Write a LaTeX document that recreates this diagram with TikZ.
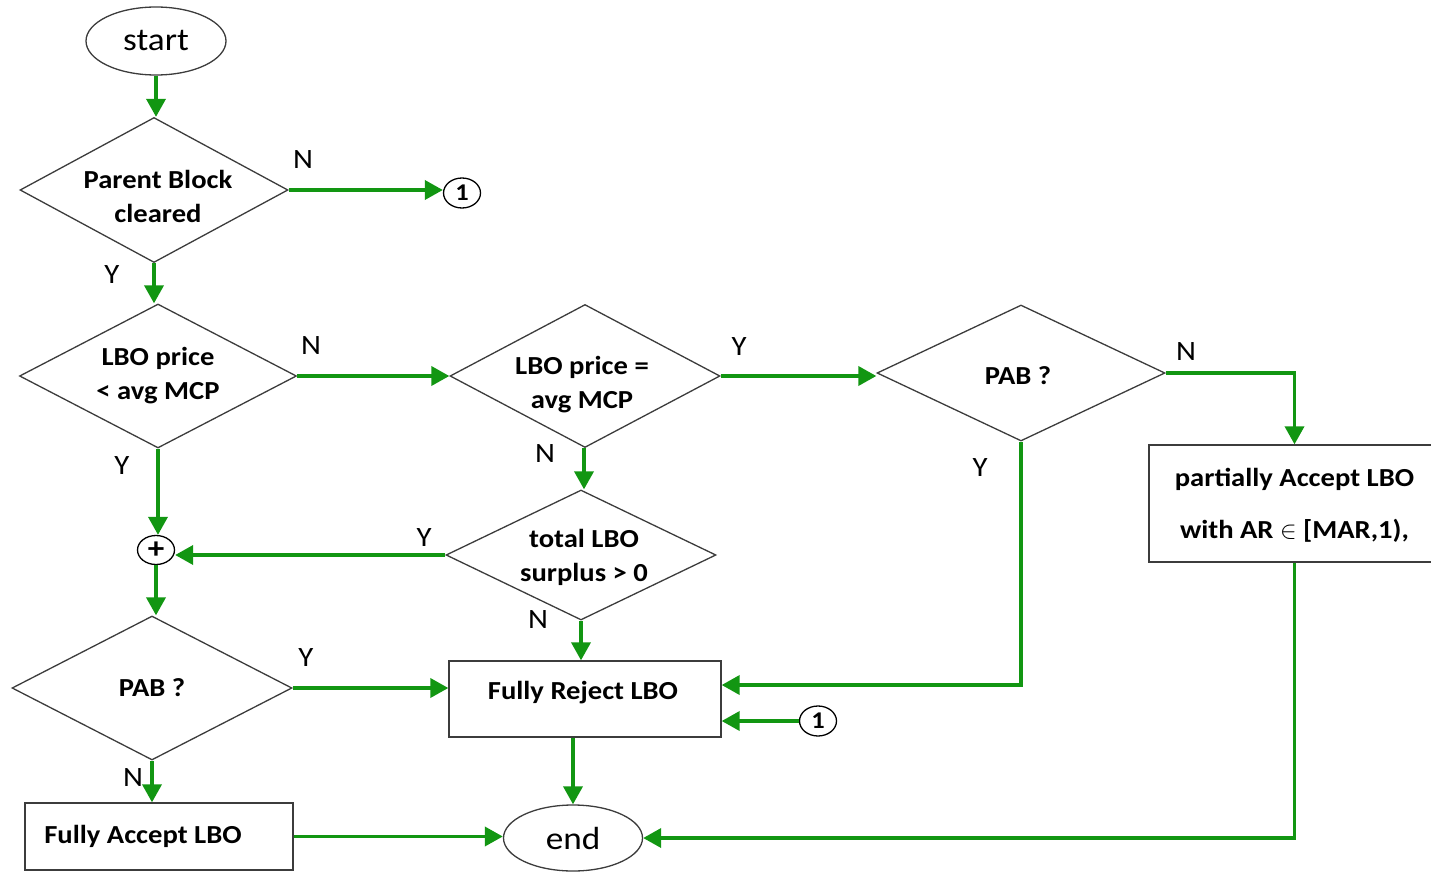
\documentclass[tikz,border=0pt]{standalone}
\usepackage{fontspec}
\setmainfont{Carlito}[FakeStretch=1.1]
\usetikzlibrary{shapes.geometric,arrows.meta}
\definecolor{flowgreen}{RGB}{18,150,18}
\definecolor{edgegray}{RGB}{60,60,60}
\tikzset{
  shapeline/.style={draw=edgegray,line width=1.3pt,fill=white},
  dia/.style={shapeline,diamond,inner sep=0pt},
  oval/.style={shapeline,ellipse,inner sep=0pt},
  boxnode/.style={shapeline,rectangle,inner sep=0pt},
  conn/.style={circle,draw=black,line width=1.3pt,ellipse,inner sep=0pt,minimum width=37pt,minimum height=30pt,font=\fontsize{24}{24}\selectfont\bfseries},
  flow/.style={draw=flowgreen,line width=3.6pt,-{Triangle[length=18pt,width=19pt]}},
  lbl/.style={font=\fontsize{26}{34}\selectfont\bfseries,align=center},
  yn/.style={font=\fontsize{28}{28}\selectfont,inner sep=0pt},
}
\begin{document}
\begin{tikzpicture}[x=1pt,y=-1pt]
\useasboundingbox (0,0) rectangle (1431,872);
% shapes
\node[oval,minimum width=140pt,minimum height=68pt,font=\fontsize{32}{32}\selectfont] (start) at (156,41) {start};
\node[dia,minimum width=268pt,minimum height=145pt,label={[lbl,yshift=-6pt,xshift=4pt]center:Parent Block\\cleared}] (pb) at (154,190) {};
\node[conn] (c1a) at (462,193) {1};
\node[dia,minimum width=277pt,minimum height=144pt,label={[lbl]center:LBO price\\< avg MCP}] (lp) at (158,376) {};
\node[dia,minimum width=270pt,minimum height=143pt,label={[lbl,yshift=-9pt,xshift=-3pt]center:LBO price =\\avg MCP}] (le) at (585,376) {};
\node[dia,minimum width=288pt,minimum height=136pt,label={[lbl,yshift=-3pt,xshift=-3pt]center:PAB ?}] (pab1) at (1021,373) {};
\node[boxnode,minimum width=291pt,minimum height=117pt,label={[lbl,font=\fontsize{26}{52}\selectfont\bfseries,yshift=-2pt]center:partially Accept LBO\\with AR $\in$ [MAR,1),}] (pa) at (1294.5,503.5) {};
\node[dia,minimum width=270pt,minimum height=130pt,label={[lbl,yshift=-2pt,xshift=3pt]center:total LBO\\surplus > 0}] (tl) at (581,555) {};
\node[conn,minimum width=37pt,minimum height=29pt,font=\fontsize{30}{30}\selectfont\bfseries] (plus) at (156,550) {+};
\node[dia,minimum width=280pt,minimum height=144pt,label={[lbl]center:PAB ?}] (pab2) at (152,688) {};
\node[boxnode,minimum width=272pt,minimum height=76pt,label={[lbl,yshift=6pt,xshift=-2pt]center:Fully Reject LBO}] (fr) at (585,699) {};
\node[conn] (c1b) at (818,721) {1};
\node[oval,minimum width=139pt,minimum height=66pt,font=\fontsize{32}{32}\selectfont] (end) at (573,838) {end};
\node[boxnode,minimum width=268pt,minimum height=67pt,label={[lbl,xshift=-16pt]center:Fully Accept LBO}] (fa) at (159,836.5) {};
% connectors
\draw[flow] (start.south) -- (start.south |- pb.north);
\draw[flow] (pb.east) -- (pb.east -| c1a.west);
\draw[flow] (pb.south) -- (pb.south |- lp.north);
\draw[flow] (lp.east) -- (le.west);
\draw[flow] (le.east) -- (le.east -| pab1.west);
\draw[flow] (pab1.east) -| (pa.north);
\draw[flow] (pa.south) |- (end.east);
\draw[flow] (pab1.south) |- ([yshift=14pt]fr.east);
\draw[flow] (c1b.west) -- (c1b.west -| fr.east);
\draw[flow] ([xshift=-1pt]le.south) -- ([xshift=-1pt]le.south |- tl.north);
\draw[flow] (tl.west) -- (tl.west -| plus.east);
\draw[flow] (lp.south) -- (lp.south |- plus.north);
\draw[flow] (plus.south) -- (plus.south |- pab2.north);
\draw[flow] (tl.south) -- (tl.south |- fr.north);
\draw[flow] (pab2.east) -- (pab2.east -| fr.west);
\draw[flow] (pab2.south) -- (pab2.south |- fa.north);
\draw[flow] (fa.east) -- (fa.east -| end.west);
\draw[flow] (end.north |- fr.south) -- (end.north);
% Y/N labels
\node[yn] (n1) at (303,160) {N};
\node[yn] (y1) at (112,275) {Y};
\node[yn] (n2) at (311,346) {N};
\node[yn] (y2) at (122,466) {Y};
\node[yn] (y3) at (739,347) {Y};
\node[yn] (n3) at (545,454) {N};
\node[yn] (n4) at (1186,352) {N};
\node[yn] (y4) at (980,468) {Y};
\node[yn] (y5) at (424,538) {Y};
\node[yn] (n5) at (538,620) {N};
\node[yn] (y6) at (306,658) {Y};
\node[yn] (n6) at (133,778) {N};
\end{tikzpicture}
\end{document}
